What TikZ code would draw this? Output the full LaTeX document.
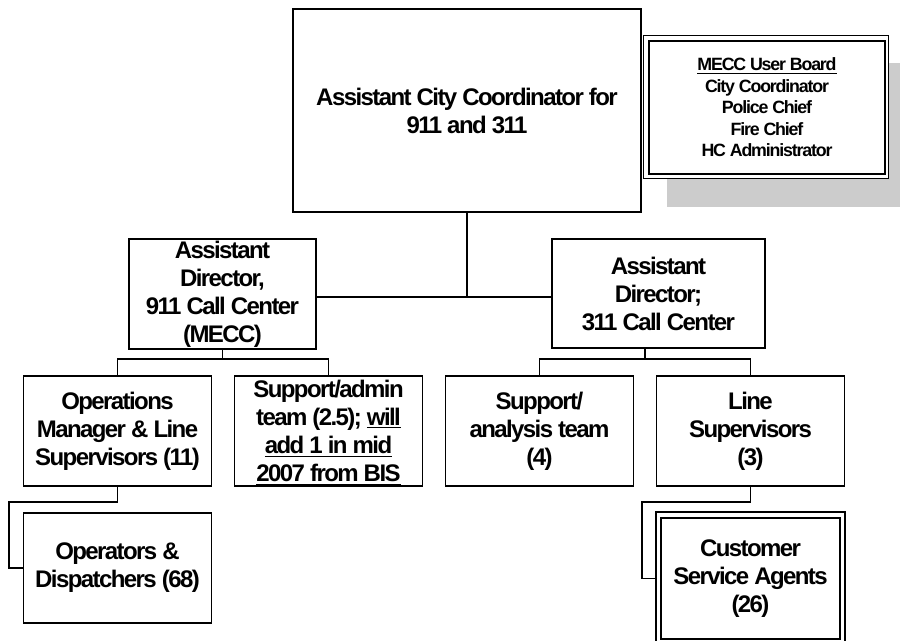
\documentclass[tikz,border=0pt]{standalone}
\usepackage{fontspec}
\setmainfont{Liberation Sans}[LetterSpace=-6.6]
\usetikzlibrary{backgrounds}
\tikzset{
	box/.style={draw,line width=1.3pt,fill=white,inner sep=0pt,align=center,
		font={\fontsize{18pt}{21pt}\selectfont\bfseries},
		minimum width=188*0.75pt,minimum height=110*0.75pt},
	small/.style={font={\fontsize{13.35pt}{16.1pt}\selectfont\bfseries}},
	link/.style={line width=1pt},
	rim/.style={draw,fill=white,line width=0.8pt},
}
\begin{document}
\begin{tikzpicture}[x=0.75pt,y=-0.75pt]
	\useasboundingbox (0,0) rectangle (900,641);
	\node[box,minimum width=348*0.75pt,minimum height=203*0.75pt] (acc) at (467,110.5) {Assistant City Coordinator for\\911 and 311};
	\node[box,small,minimum width=236*0.75pt,minimum height=133*0.75pt] (board) at (767,107.5) {\underline{MECC User Board}\\City Coordinator\\Police Chief\\Fire Chief\\HC Administrator};
	\node[box,minimum width=187*0.75pt] (adl) at (222.5,294) {Assistant\\Director,\\911 Call Center\\(MECC)};
	\node[box,minimum width=213*0.75pt,minimum height=109*0.75pt] (adr) at (658.5,293.5) {Assistant\\Director;\\311 Call Center};
	\node[box] (ops) at (117.5,431) {Operations\\Manager \& Line\\Supervisors (11)};
	\node[box] (sadm) at (328.5,431) {Support/admin\\team (2.5); \underline{will}\\\underline{add 1 in mid}\\\smash{\underline{2007 from BIS}}};
	\node[box] (sana) at (539.5,431) {Support/\\analysis team\\(4)};
	\node[box] (lsup) at (750.5,431) {Line\\Supervisors\\(3)};
	\node[box] (opd) at (117.5,568) {Operators \&\\Dispatchers (68)};
	\node[box,minimum width=179*0.75pt,minimum height=121*0.75pt] (csa) at (750.5,578.5) {Customer\\Service Agents\\(26)};
	\begin{scope}[on background layer]
		\fill[black!20] (667,63) rectangle (912,207);
		\draw[rim] ([shift={(-5,-5)}]board.north west) rectangle ([shift={(3,4)}]board.south east);
		\draw[rim,line width=1pt] ([shift={(-4,-5)}]csa.north west) rectangle ([shift={(4,4)}]csa.south east);
	\end{scope}
	\coordinate (hub) at (467,297);
	\draw[link] (acc.south) -- (hub);
	\draw[link] (adl.east |- hub) -- (adr.west |- hub);
	\coordinate (jl) at (222.5,359);
	\draw[link] (adl.south) -- (jl);
	\draw[link] (ops.north) |- (jl) -| (sadm.north);
	\coordinate (jr) at (645,359);
	\draw[link] (adr.south -| jr) -- (jr);
	\draw[link] (sana.north) |- (jr) -| (lsup.north);
	\coordinate (kl) at (9,502);
	\draw[link] (ops.south) |- (kl) |- (opd.west);
	\coordinate (kr) at (642,502);
	\draw[link] (lsup.south) |- (kr) |- ([xshift=-4]csa.west);
\end{tikzpicture}
\end{document}
